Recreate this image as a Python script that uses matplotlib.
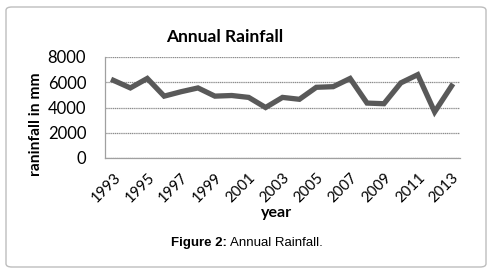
import numpy as np
import matplotlib.pyplot as plt
from matplotlib.patches import FancyBboxPatch

# annual rainfall (mm)
years = list(range(1993, 2014))
rainfall = [6150, 5550, 6300, 4900, 5250, 5550, 4900, 4950, 4800, 4000, 4800,
            4650, 5600, 5650, 6300, 4350, 4300, 5950, 6600, 3650, 5700]
y_ticks = [0, 2000, 4000, 6000, 8000]

plt.rcParams['font.family'] = ['Lato', 'DejaVu Sans']

fig = plt.figure(figsize=(4.91, 2.74), dpi=100)

# rounded frame around the whole figure
frame = FancyBboxPatch((6 / 491, 7 / 274), 480 / 491, 260 / 274,
                       boxstyle="round,pad=0,rounding_size=0.012",
                       transform=fig.transFigure, fc='none', ec='#bdbdbd', lw=1.0)
fig.patches.append(frame)

ax = fig.add_axes([105 / 491, 1 - 158 / 274, 355 / 491, 101 / 274])
x = np.arange(len(years))
ax.plot(x, rainfall, color='#595959', lw=3.8, solid_joinstyle='miter')

ax.set_xlim(-0.5, len(years) - 0.5)
ax.set_ylim(0, 8000)
ax.set_yticks(y_ticks)
ax.set_yticklabels([str(v) for v in y_ticks], fontsize=12)
ax.set_xticks(x[::2])
ax.set_xticklabels([str(y) for y in years[::2]], fontsize=10.8, rotation=45,
                   ha='right', va='top', rotation_mode='anchor')
ax.tick_params(axis='y', length=0, pad=13.5)
ax.tick_params(axis='x', length=0, pad=9)
ax.grid(axis='y', color='#8c8c8c', lw=0.9, ls=(0, (1, 0.5)))
ax.set_axisbelow(True)
for s in ['top', 'right']:
    ax.spines[s].set_visible(False)
for s in ['left', 'bottom']:
    ax.spines[s].set_color('#a0a0a0')
    ax.spines[s].set_linewidth(0.9)

fig.text(225 / 491, 1 - 37 / 274, 'Annual Rainfall', fontsize=12.5, fontweight='bold',
         ha='center', va='center')
fig.text(36.5 / 491, 1 - 124.5 / 274, 'raninfall in mm', fontsize=11.2, fontweight='bold',
         rotation=90, ha='center', va='center')
fig.text(277 / 491, 1 - 212.5 / 274, 'year', fontsize=11.5, fontweight='bold',
         ha='center', va='center')

# caption with bold prefix
cap1 = fig.text(171 / 491, 1 - 243 / 274, 'Figure 2:', fontsize=9.5, fontweight='bold',
                family='Liberation Sans', ha='left', va='center')
fig.canvas.draw()
bb = cap1.get_window_extent()
fig.text(bb.x1 / fig.bbox.width + 3 / 491, 1 - 243 / 274, 'Annual Rainfall.', fontsize=9.5,
         family='Liberation Sans', ha='left', va='center')

fig.savefig('out.png', dpi=100)
